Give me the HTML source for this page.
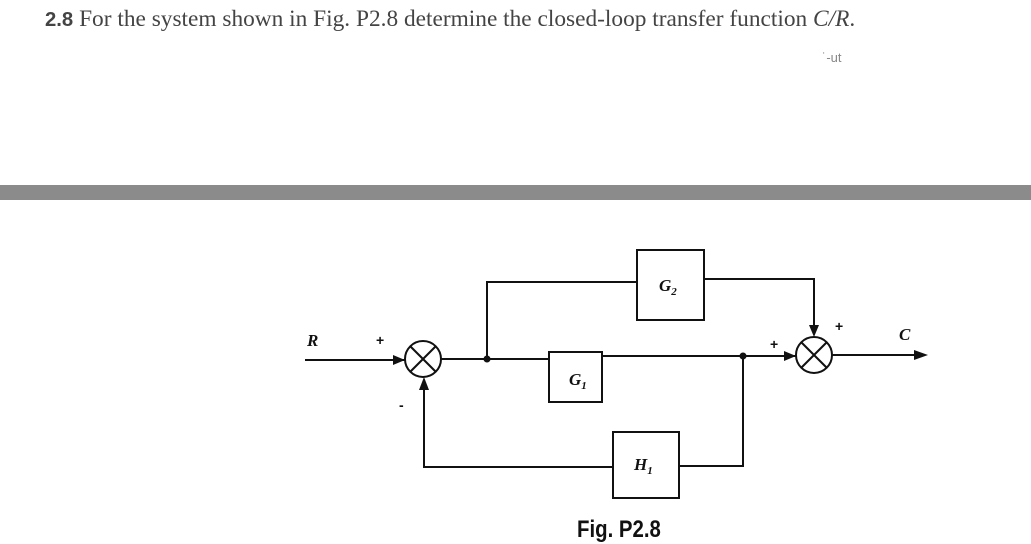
<!DOCTYPE html>
<html><head><meta charset="utf-8"><style>
html,body{margin:0;padding:0;background:#fff;}
body{width:1031px;height:544px;position:relative;overflow:hidden;}
.t{position:absolute;left:45px;top:6px;font-family:"Liberation Serif",serif;font-size:23px;color:#444;white-space:nowrap;transform-origin:0 0;transform:scaleX(1.015)}
.band{position:absolute;left:0;top:185px;width:1031px;height:15px;background:#8a8b8a;}
</style></head><body>
<div class="t"><b style="font-family:'Liberation Sans',sans-serif;font-size:20px">2.8</b> For the system shown in Fig. P2.8 determine the closed-loop transfer function <i>C/R</i>.</div>
<div style="position:absolute;left:822px;top:50px;font-family:'Liberation Sans',sans-serif;font-size:13px;color:#888">˙‐ut</div>
<div class="band"></div>
<svg width="1031" height="544" style="position:absolute;left:0;top:0" xmlns="http://www.w3.org/2000/svg">
<g stroke="#111" stroke-width="2" fill="none">
<circle cx="423" cy="359" r="18"/>
<line x1="410" y1="346" x2="436" y2="372"/><line x1="436" y1="346" x2="410" y2="372"/>
<circle cx="814" cy="355" r="18"/>
<line x1="801" y1="342" x2="827" y2="368"/><line x1="827" y1="342" x2="801" y2="368"/>
<rect x="637" y="250" width="67" height="70"/>
<rect x="549" y="352" width="53" height="50"/>
<rect x="613" y="432" width="66" height="66"/>
<polyline points="305,360 405,360"/>
<polyline points="441,359 549,359"/>
<polyline points="487,359 487,282 637,282"/>
<polyline points="704,279 814,279 814,332"/>
<polyline points="602,356 796,356"/>
<polyline points="743,356 743,466 679,466"/>
<polyline points="613,467 424,467 424,382"/>
<polyline points="832,355 915,355"/>
</g>
<g fill="#111">
<circle cx="487" cy="359" r="3.5"/><circle cx="743" cy="356" r="3.5"/>
<polygon points="405,360 393,355 393,365"/>
<polygon points="424,377 419,390 429,390"/>
<polygon points="814,337 809,325 819,325"/>
<polygon points="796,356 784,351 784,361"/>
<polygon points="928,355 914,350 914,360"/>
</g>
<g font-family="Liberation Serif,serif" font-style="italic" font-weight="bold" fill="#111">
<text x="307" y="346" font-size="17">R</text>
<text x="899" y="340" font-size="17">C</text>
<text x="659" y="291" font-size="17">G<tspan font-size="11" dy="4">2</tspan></text>
<text x="569" y="385" font-size="17">G<tspan font-size="11" dy="4">1</tspan></text>
<text x="634" y="470" font-size="17">H<tspan font-size="11" dy="4">1</tspan></text>
</g>
<g font-family="Liberation Sans,sans-serif" font-weight="bold" fill="#111" font-size="14">
<text x="376" y="345">+</text>
<text x="399" y="410">-</text>
<text x="770" y="349">+</text>
<text x="835" y="331">+</text>
<text x="0" y="0" font-size="24" transform="translate(577,537) scale(0.85,1)">Fig. P2.8</text>
</g>
</svg>
</body></html>
